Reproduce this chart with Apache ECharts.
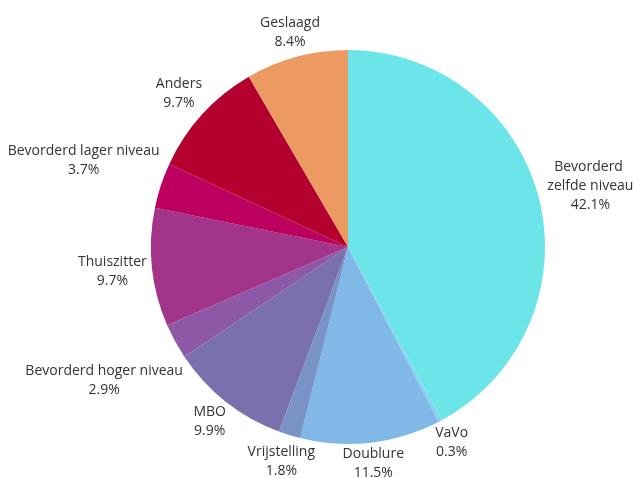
<!DOCTYPE html>
<html>
<head>
<meta charset="utf-8">
<script src="https://cdn.jsdelivr.net/npm/echarts@6/dist/echarts.min.js"></script>
<style>
  html, body { margin: 0; padding: 0; background: #fff; }
  #chart { width: 633px; height: 478px; }
</style>
</head>
<body>
<div id="chart"></div>
<script>
// slices, clockwise from 12 o'clock
const categories = ['Bevorderd zelfde niveau', 'VaVo', 'Doublure', 'Vrijstelling', 'MBO',
    'Bevorderd hoger niveau', 'Thuiszitter', 'Bevorderd lager niveau', 'Anders', 'Geslaagd'];
const shares = [42.1, 0.3, 11.5, 1.8, 9.9, 2.9, 9.7, 3.7, 9.7, 8.4];
const colors = ['#6be5e8', '#86d2ef', '#80b8e7', '#7a93c6', '#7a70ae',
    '#8d58a6', '#a2358a', '#bc005f', '#b3002e', '#ec9a62'];

const chartDom = document.getElementById('chart');
const myChart = echarts.init(chartDom);

const center = [348, 247];
const radius = 197;
const total = shares.reduce((a, b) => a + b, 0);

// mid angle of each slice (radians, clockwise from top)
const midAngles = [];
let cum = 0;
shares.forEach(v => {
    midAngles.push((cum + v / 2) / total * Math.PI * 2);
    cum += v;
});

const option = {
    animation: false,
    series: [
        {
            type: 'pie',
            center: center,
            radius: radius,
            startAngle: 90,
            clockwise: true,
            avoidLabelOverlap: false,
            data: categories.map((name, i) => {
                const item = { name: name, value: shares[i], itemStyle: { color: colors[i] } };
                if (i === 0) {
                    item.label = { width: 88, overflow: 'break' };
                }
                return item;
            }),
            itemStyle: { borderWidth: 0 },
            label: {
                show: true,
                position: 'outside',
                formatter: '{b}\n{c}%',
                fontFamily: 'Open Sans',
                fontSize: 14,
                lineHeight: 19,
                color: '#333',
                align: 'center'
            },
            labelLine: { show: false, length: 0, length2: 0 },
            // push each label box just outside the rim along its slice's mid angle
            labelLayout: (params) => {
                const a = midAngles[params.dataIndex];
                const dx = Math.sin(a), dy = -Math.cos(a);
                const w = params.labelRect.width, h = params.labelRect.height - 4;
                const t = Math.abs(dx) * w / 2 + Math.abs(dy) * h / 2;
                const d = radius + 4 * Math.abs(dx) + t;
                return {
                    x: center[0] + dx * d,
                    y: center[1] + dy * d,
                    align: 'center',
                    verticalAlign: 'middle'
                };
            }
        }
    ]
};

option && myChart.setOption(option);
</script>
</body>
</html>
